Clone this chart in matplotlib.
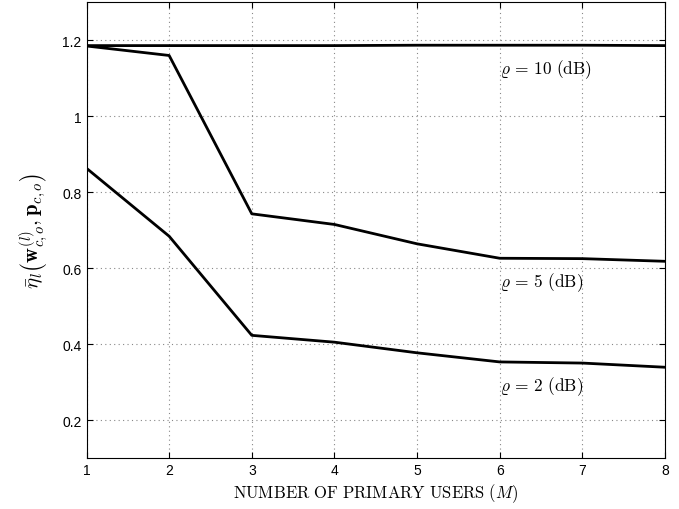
import numpy as np
import matplotlib
matplotlib.use("Agg")
import matplotlib.pyplot as plt

plt.rcParams['mathtext.fontset'] = 'cm'
plt.rcParams['font.family'] = ['Liberation Sans', 'DejaVu Sans']

# number of primary users
M = [1, 2, 3, 4, 5, 6, 7, 8]

# average efficiency for each rho (dB)
eta_rho10 = [1.186, 1.186, 1.186, 1.186, 1.187, 1.187, 1.187, 1.186]
eta_rho5 = [1.185, 1.160, 0.743, 0.715, 0.664, 0.626, 0.625, 0.618]
eta_rho2 = [0.863, 0.684, 0.423, 0.405, 0.377, 0.353, 0.350, 0.339]

labels = [r'$\varrho\,=\,10\ \mathrm{(dB)}$', r'$\varrho\,=\,5\ \mathrm{(dB)}$', r'$\varrho\,=\,2\ \mathrm{(dB)}$']
label_pos = [(6.0, 1.126), (6.0, 0.564), (6.0, 0.290)]

fig = plt.figure(figsize=(6.79, 5.10), dpi=100)
ax = fig.add_axes([0.1274, 0.1, 0.852, 0.8935])

for y in [eta_rho10, eta_rho5, eta_rho2]:
    ax.plot(M, y, color='black', lw=2)

for txt, (x, y) in zip(labels, label_pos):
    ax.text(x, y, txt, fontsize=12.5, ha='left', va='center')

ax.set_xlim(1, 8)
ax.set_ylim(0.1, 1.3)
ax.set_xticks(M)
ax.set_yticks([0.2, 0.4, 0.6, 0.8, 1.0, 1.2])
ax.set_yticklabels(['0.2', '0.4', '0.6', '0.8', '1', '1.2'])
ax.tick_params(direction='in', top=True, right=True, labelsize=10, length=4)
ax.grid(True, linestyle=(0, (1, 3)), color='#888888', linewidth=0.8)

ax.set_xlabel(r'$\mathrm{NUMBER\ OF\ PRIMARY\ USERS\ }(M)$', fontsize=12, labelpad=3)
ax.set_ylabel(r'$\bar{\eta}_l\left(\mathbf{w}^{(l)}_{c,o}, \mathbf{p}_{c,o}\right)$', fontsize=15, labelpad=8)

fig.savefig('out.png', dpi=100)
